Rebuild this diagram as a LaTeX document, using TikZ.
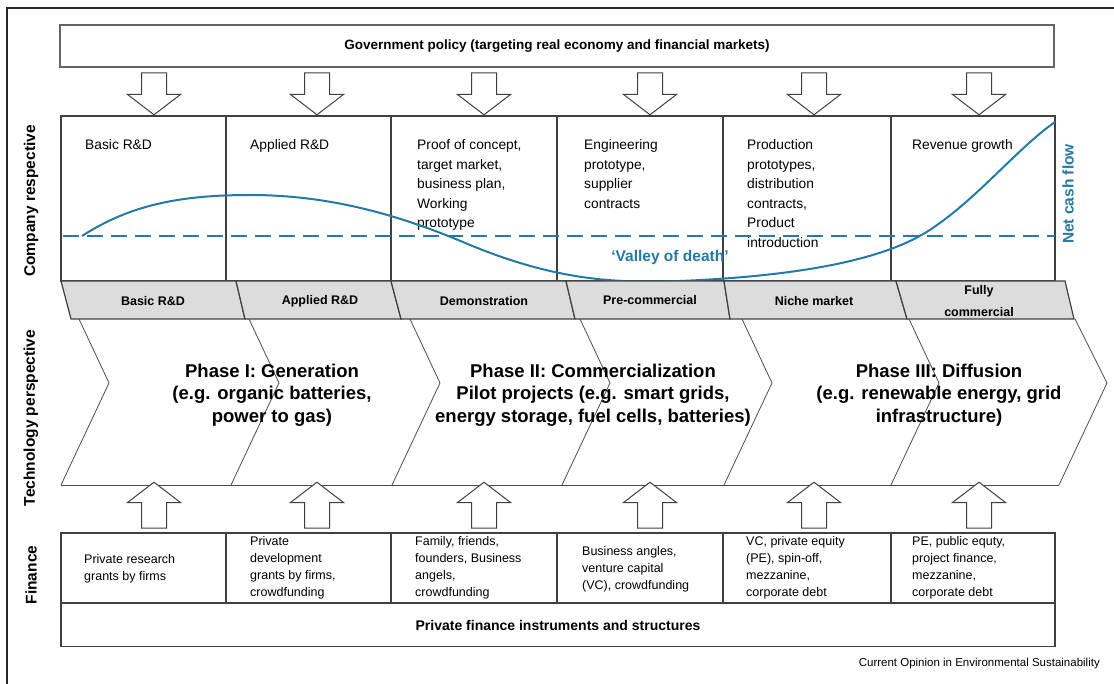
\documentclass[tikz,border=0pt]{standalone}
\usepackage{fontspec}
\setmainfont{Liberation Sans}
\usetikzlibrary{shapes.arrows}

\definecolor{boxline}{RGB}{64,64,64}
\definecolor{govline}{RGB}{100,100,100}
\definecolor{stripfill}{RGB}{220,220,220}
\definecolor{cashblue}{RGB}{36,121,166}

\begin{document}
\begin{tikzpicture}[x=1pt, y=-1pt,
  box/.style={draw=boxline, line width=1.2pt},
  cell/.style={anchor=north west, inner sep=0pt, align=left, font=\fontsize{13.8}{19.5}\selectfont},
  fincell/.style={anchor=north west, inner sep=0pt, align=left, font=\fontsize{12.5}{17}\selectfont},
  striplabel/.style={inner sep=0pt, align=center, font=\fontsize{12.5}{22}\bfseries\selectfont},
  phase/.style={inner sep=0pt, align=center, font=\fontsize{18.5}{22.5}\bfseries\selectfont},
  sidelabel/.style={rotate=90, inner sep=0pt, font=\fontsize{15.5}{18}\bfseries\selectfont},
  blockarrow/.style={single arrow, draw=boxline, fill=white, line width=1pt, inner sep=12pt,
    single arrow head extend=14pt, single arrow tip angle=105},
  downarrow/.style={blockarrow, rotate=-90, minimum height=42pt},
  uparrow/.style={blockarrow, rotate=90, minimum height=46pt}]

  \useasboundingbox (0,0) rectangle (1114,684);

  % frame
  \draw[line width=1.4pt, black!85] (7,684) -- (7,8) -- (1114,8);

  % government policy
  \node (gov) at (557,46) [draw=govline, line width=2pt, minimum width=994pt, minimum height=42pt,
    font=\fontsize{13.5}{16}\bfseries\selectfont] {Government policy (targeting real economy and financial markets)};
  \node (d1) at (154,89) [downarrow] {};
  \node (d2) at (317,89) [downarrow] {};
  \node (d3) at (484,89) [downarrow] {};
  \node (d4) at (650,89) [downarrow] {};
  \node (d5) at (814,89) [downarrow] {};
  \node (d6) at (979,89) [downarrow] {};

  % company perspective
  \draw[box] (61,116) rectangle (1055,281);
  \draw[box] (226,116) -- (226,281);
  \draw[box] (391,116) -- (391,281);
  \draw[box] (557,116) -- (557,281);
  \draw[box] (723,116) -- (723,281);
  \draw[box] (891,116) -- (891,281);
  \node (c1) at (85,139.5) [cell] {Basic R\&D};
  \node (c2) at (250,139.5) [cell] {Applied R\&D};
  \node (c3) at (417,139.5) [cell] {Proof of concept,\\target market,\\business plan,\\Working\\prototype};
  \node (c4) at (584,139.5) [cell] {Engineering\\prototype,\\supplier\\contracts};
  \node (c5) at (747,139.5) [cell] {Production\\prototypes,\\distribution\\contracts,\\Product\\introduction};
  \node (c6) at (912,139.5) [cell] {Revenue growth};

  % net cash flow
  \draw[cashblue, line width=1.8pt, dash pattern=on 16pt off 8pt] (63,236) -- (1055,236);
  \draw[cashblue, line width=2pt] (82,236) .. controls (130,205) and (180,195) .. (250,195)
    .. controls (330,195) and (400,215) .. (470,245)
    .. controls (560,282) and (620,283) .. (680,281)
    .. controls (800,276) and (880,260) .. (925,233)
    .. controls (975,202) and (1015,150) .. (1055,122);
  \node (valley) at (670,257) [inner sep=0pt, text=cashblue, font=\fontsize{15.5}{18}\bfseries\selectfont] {‘Valley of death’};
  \node (ncf) at (1068,194) [sidelabel, text=cashblue] {Net cash flow};

  % technology perspective
  \draw[line width=0.8pt, black!70] (79,319) -- (109,383) -- (61,485);
  \draw[line width=0.8pt, black!70] (249,319) -- (279,383) -- (231,485);
  \draw[line width=0.8pt, black!70] (410,319) -- (440,383) -- (392,485);
  \draw[line width=0.8pt, black!70] (580,319) -- (610,383) -- (562,485);
  \draw[line width=0.8pt, black!70] (742,319) -- (772,383) -- (724,485);
  \draw[line width=0.8pt, black!70] (909,319) -- (939,383) -- (891,485);
  \draw[line width=0.8pt, black!70] (1075,319) -- (1107,383) -- (1059,485);
  \draw[line width=0.8pt, black!70] (61,485) -- (1059,485);

  \draw[box, fill=stripfill] (61,281) -- (236,281) -- (245,319) -- (71,319) -- cycle;
  \draw[box, fill=stripfill] (236,281) -- (391,281) -- (401,319) -- (245,319) -- cycle;
  \draw[box, fill=stripfill] (391,281) -- (566,281) -- (575,319) -- (401,319) -- cycle;
  \draw[box, fill=stripfill] (566,281) -- (724,281) -- (730,319) -- (575,319) -- cycle;
  \draw[box, fill=stripfill] (724,281) -- (896,281) -- (907,319) -- (730,319) -- cycle;
  \draw[box, fill=stripfill] (896,281) -- (1065,281) -- (1074,319) -- (907,319) -- cycle;
  \node (s1) at (153,301) [striplabel] {Basic R\&D};
  \node (s2) at (320,301) [striplabel] {Applied R\&D};
  \node (s3) at (484,301) [striplabel] {Demonstration};
  \node (s4) at (650,300) [striplabel] {Pre-commercial};
  \node (s5) at (814,301) [striplabel] {Niche market};
  \node (s6) at (979,301) [striplabel] {Fully\\commercial};

  \node (p1) at (272,395) [phase] {Phase I: Generation\\(e.g. organic batteries,\\power to gas)};
  \node (p2) at (593,395) [phase] {Phase II: Commercialization\\Pilot projects (e.g. smart grids,\\energy storage, fuel cells, batteries)};
  \node (p3) at (939,395) [phase] {Phase III: Diffusion\\(e.g. renewable energy, grid\\infrastructure)};

  % finance
  \node (u1) at (154,510) [uparrow] {};
  \node (u2) at (317,510) [uparrow] {};
  \node (u3) at (484,510) [uparrow] {};
  \node (u4) at (650,510) [uparrow] {};
  \node (u5) at (814,510) [uparrow] {};
  \node (u6) at (979,510) [uparrow] {};

  \draw[box] (61,533) rectangle (1055,603);
  \draw[box] (226,533) -- (226,603);
  \draw[box] (391,533) -- (391,603);
  \draw[box] (557,533) -- (557,603);
  \draw[box] (723,533) -- (723,603);
  \draw[box] (891,533) -- (891,603);
  \node (f1) at (84,554.5) [fincell] {Private research\\grants by firms};
  \node (f2) at (250,536.5) [fincell] {Private\\development\\grants by firms,\\crowdfunding};
  \node (f3) at (415,536.5) [fincell] {Family, friends,\\founders, Business\\angels,\\crowdfunding};
  \node (f4) at (582,546.5) [fincell] {Business angles,\\venture capital\\(VC), crowdfunding};
  \node (f5) at (746,536.5) [fincell] {VC, private equity\\(PE), spin-off,\\mezzanine,\\corporate debt};
  \node (f6) at (912,536.5) [fincell] {PE, public equty,\\project finance,\\mezzanine,\\corporate debt};
  \node (pfi) at (558,625) [box, minimum width=994pt, minimum height=43pt,
    font=\fontsize{14}{16}\bfseries\selectfont] {Private finance instruments and structures};

  % side labels
  \node (lc) at (31,201) [sidelabel] {Company respective};
  \node (lt) at (31,418) [sidelabel] {Technology perspective};
  \node (lf) at (31,575) [sidelabel] {Finance};

  \node (src) at (1100,664) [anchor=east, inner sep=0pt, font=\fontsize{11.5}{14}\selectfont] {Current Opinion in Environmental Sustainability};

\end{tikzpicture}
\end{document}
